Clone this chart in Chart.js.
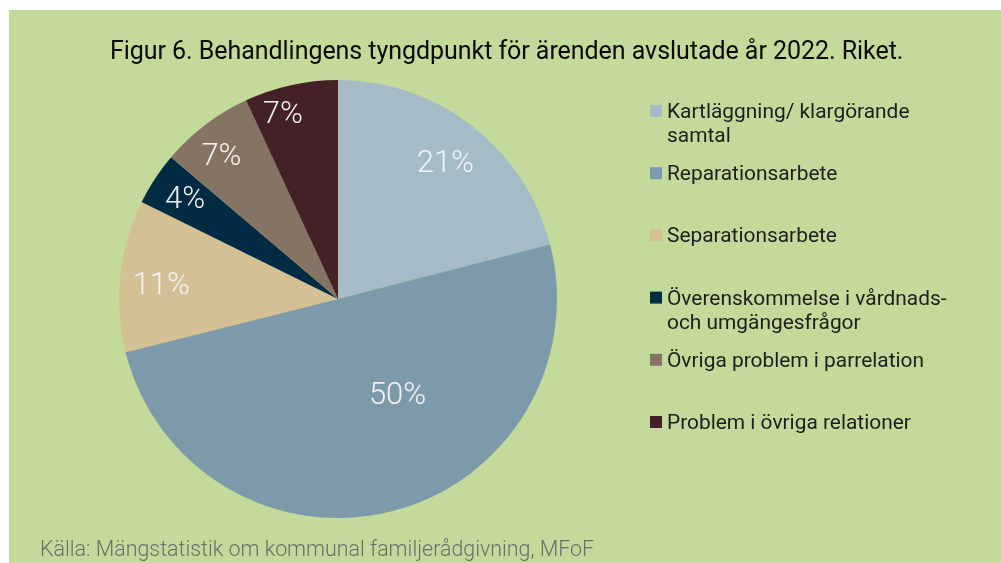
<!DOCTYPE html>
<html lang="sv">
<head>
<meta charset="utf-8">
<script src="https://cdn.jsdelivr.net/npm/chart.js@4.4.1/dist/chart.umd.min.js"></script>
<style>
  html, body { margin: 0; padding: 0; background: #fff; }
  canvas { display: block; }
</style>
</head>
<body>
<canvas id="figur6" width="1001" height="563"></canvas>
<script>
// Behandlingens tyngdpunkt, andel av avslutade ärenden 2022 (procent)
const kategorier = [
  ['Kartläggning/ klargörande', 'samtal'],
  ['Reparationsarbete'],
  ['Separationsarbete'],
  ['Överenskommelse i vårdnads-', 'och umgängesfrågor'],
  ['Övriga problem i parrelation'],
  ['Problem i övriga relationer']
];
const andelar = [21.0, 50.1, 11.2, 3.9, 6.9, 6.9];
const farger = ['#a5bbc6', '#7d9aab', '#d3c094', '#002b42', '#857463', '#442126'];

const rubrik = 'Figur 6. Behandlingens tyngdpunkt för ärenden avslutade år 2022. Riket.';
const kalla = 'Källa: Mängstatistik om kommunal familjerådgivning, MFoF';

// bakgrund, rubrik, källa och förklaring ritas här
const ramPlugin = {
  id: 'ram',
  beforeDraw(chart) {
    const ctx = chart.ctx;
    ctx.save();
    ctx.fillStyle = '#ffffff';
    ctx.fillRect(0, 0, chart.width, chart.height);
    ctx.fillStyle = '#c4da9a';
    ctx.fillRect(9, 10, chart.width - 9, chart.height - 10);
    ctx.restore();
  },
  afterDraw(chart) {
    const ctx = chart.ctx;
    ctx.save();

    // rubrik
    ctx.fillStyle = '#0a0a0a';
    ctx.font = '25px Roboto';
    ctx.letterSpacing = '-0.05px';
    ctx.textAlign = 'left';
    ctx.textBaseline = 'alphabetic';
    ctx.fillText(rubrik, 110, 59);
    ctx.letterSpacing = '0px';

    // källa
    ctx.fillStyle = '#6d6d6d';
    ctx.font = '300 21.4px Roboto';
    ctx.fillText(kalla, 40, 556);

    // förklaring
    const labels = chart.data.labels;
    const colors = chart.data.datasets[0].backgroundColor;
    ctx.font = '20.9px Roboto';
    labels.forEach((rader, i) => {
      const y = 111 + i * 62.2;
      ctx.fillStyle = colors[i];
      ctx.fillRect(650, y - 6, 12, 12);
      ctx.fillStyle = '#1e1e1e';
      rader.forEach((rad, j) => {
        ctx.fillText(rad, 667, y + 7 + j * 24);
      });
    });
    ctx.restore();
  }
};

// procentetiketter i tårtbitarna
const etikettPlacering = [
  { r: 0.80, vrid: 0 },
  { r: 0.51, vrid: -18 },
  { r: 0.81, vrid: -1 },
  { r: 0.84, vrid: 0.5 },
  { r: 0.85, vrid: -1.5 },
  { r: 0.89, vrid: -4 }
];

const etikettPlugin = {
  id: 'etiketter',
  afterDatasetsDraw(chart) {
    const ctx = chart.ctx;
    const meta = chart.getDatasetMeta(0);
    const data = chart.data.datasets[0].data;
    ctx.save();
    ctx.font = '300 31px Roboto';
    ctx.fillStyle = '#f2f2f2';
    ctx.textAlign = 'center';
    ctx.textBaseline = 'alphabetic';
    meta.data.forEach((arc, i) => {
      const p = arc.getProps(['x', 'y', 'startAngle', 'endAngle', 'outerRadius'], true);
      const pl = etikettPlacering[i];
      const mid = (p.startAngle + p.endAngle) / 2 + pl.vrid * Math.PI / 180;
      const x = p.x + Math.cos(mid) * p.outerRadius * pl.r;
      const y = p.y + Math.sin(mid) * p.outerRadius * pl.r;
      ctx.fillText(Math.round(data[i]) + '%', x, y + 11);
    });
    ctx.restore();
  }
};

new Chart(document.getElementById('figur6'), {
  type: 'pie',
  data: {
    labels: kategorier,
    datasets: [{
      data: andelar,
      backgroundColor: farger,
      borderWidth: 0
    }]
  },
  options: {
    responsive: false,
    animation: false,
    layout: {
      padding: { left: 119, top: 80, right: 444, bottom: 45 }
    },
    plugins: {
      legend: { display: false },
      title: { display: false },
      tooltip: { enabled: false }
    }
  },
  plugins: [ramPlugin, etikettPlugin]
});
</script>
</body>
</html>
